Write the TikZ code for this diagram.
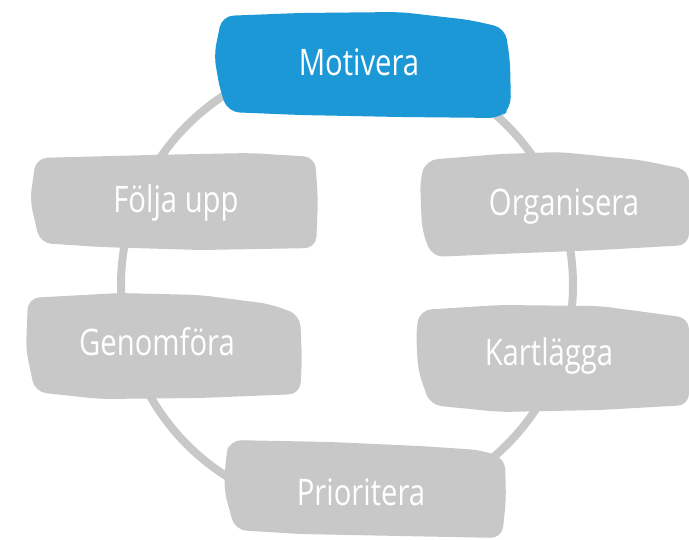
\documentclass[tikz,border=0pt]{standalone}
\usepackage{fontspec}
\setmainfont[FakeStretch=0.8]{Open Sans}
\definecolor{cycleblue}{HTML}{1B98D5}
\definecolor{cyclegray}{HTML}{C8C8C8}

\begin{document}
\begin{tikzpicture}[x=0.025cm, y=-0.025cm,
    boxtext/.style={text=white, anchor=base, inner sep=0pt,
        font=\fontsize{26}{30}\selectfont},
    roughbox/.style={fill=#1, rounded corners=8pt}]

\useasboundingbox (0,0) rectangle (689,539);

% Draw the ring
\draw[cyclegray, line width=0.2cm] (347,285) circle [radius=226];

% Motivera
\fill[roughbox=cycleblue] (222,16) -- (300,13) -- (400,12) -- (470,20) -- (505,28)
    -- (510,60) -- (511,108) -- (500,118) -- (400,117) -- (300,115) -- (228,112)
    -- (220,90) -- (214,55) -- cycle;
\node[boxtext] (motivera) at (359,75) {Motivera};

% Organisera
\fill[roughbox=cyclegray] (426,160) -- (500,154) -- (560,152) -- (640,160) -- (689,170)
    -- (689,245) -- (600,250) -- (500,254) -- (432,257) -- (422,230) -- (420,180) -- cycle;
\node[boxtext] (organisera) at (564,215) {Organisera};

% Kartlagga
\fill[roughbox=cyclegray] (420,310) -- (500,305) -- (600,306) -- (689,318)
    -- (689,405) -- (600,410) -- (500,412) -- (430,405) -- (418,370) -- (416,330) -- cycle;
\node[boxtext] (kartlagga) at (549,365) {Kartlägga};

% Prioritera
\fill[roughbox=cyclegray] (230,440) -- (330,442) -- (420,446) -- (480,450) -- (505,458)
    -- (506,500) -- (502,538) -- (400,536) -- (300,534) -- (235,530) -- (224,490)
    -- (226,455) -- cycle;
\node[boxtext] (prioritera) at (361,505) {Prioritera};

% Genomfora
\fill[roughbox=cyclegray] (28,298) -- (120,293) -- (200,295) -- (270,304) -- (300,315)
    -- (302,360) -- (300,394) -- (200,398) -- (100,399) -- (35,392) -- (26,350) -- cycle;
\node[boxtext] (genomfora) at (157,355) {Genomföra};

% Folja upp
\fill[roughbox=cyclegray] (36,158) -- (150,155) -- (250,153) -- (315,157) -- (318,200)
    -- (316,248) -- (200,250) -- (100,247) -- (40,243) -- (30,200) -- cycle;
\node[boxtext] (foljaupp) at (176,212) {Följa upp};

\end{tikzpicture}
\end{document}
